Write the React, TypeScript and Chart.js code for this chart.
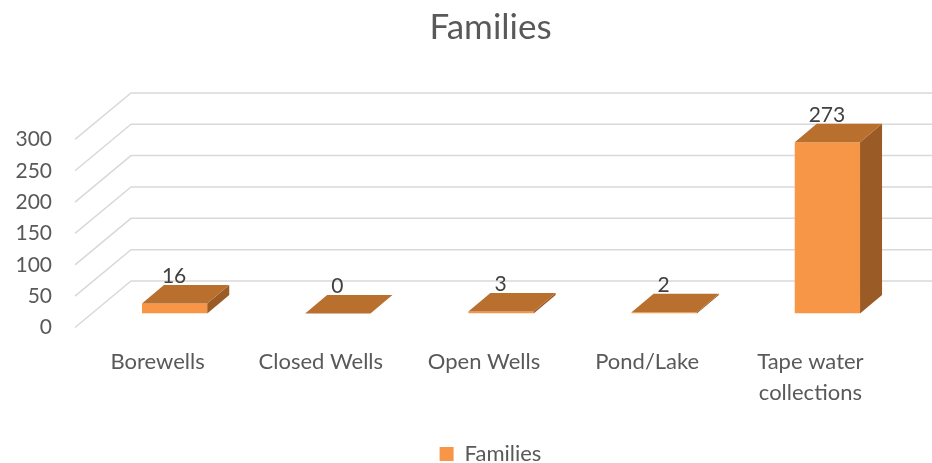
import React, { useEffect, useRef } from "react";
import { Chart, registerables } from "chart.js";

Chart.register(...registerables);

const categories: (string | string[])[] = ["Borewells", "Closed Wells", "Open Wells", "Pond/Lake", ["Tape water", "collections"]];
const families = [16, 0, 3, 2, 273];
const seriesName = "Families";
const yMax = 300;
const yStep = 50;

const FONT = "Lato, 'Open Sans', sans-serif";
const TEXT = "#595959";
const FRONT = "#F79646";
const TOP = "#B96F2E";
const SIDE = "#9A5B26";
const GRID = "#D9D9D9";
const DEPTH_X = 22;
const DEPTH_Y = 18.5;

const poly = (ctx: CanvasRenderingContext2D, pts: number[][], fill: string) => {
  ctx.beginPath();
  pts.forEach(([x, y], i) => (i ? ctx.lineTo(x, y) : ctx.moveTo(x, y)));
  ctx.closePath();
  ctx.fillStyle = fill;
  ctx.fill();
};

const wall3d = {
  id: "wall3d",
  beforeDatasetsDraw(chart: any) {
    const { ctx, scales, width } = chart;
    const y = scales.y;
    ctx.save();
    ctx.strokeStyle = GRID;
    ctx.lineWidth = 1.5;
    y.ticks.forEach((t: any) => {
      const p = y.getPixelForValue(t.value);
      ctx.beginPath();
      ctx.moveTo(chart.chartArea.left - 18, p + 14);
      ctx.lineTo(chart.chartArea.left + 38, p - 32.5);
      ctx.lineTo(width, p - 32.5);
      ctx.stroke();
    });
    ctx.restore();
  },
};

const bar3d = {
  id: "bar3d",
  afterDatasetsDraw(chart: any) {
    const { ctx } = chart;
    const meta = chart.getDatasetMeta(0);
    ctx.save();
    meta.data.forEach((bar: any, i: number) => {
      const l = bar.x - bar.width / 2;
      const r = bar.x + bar.width / 2;
      const t = bar.y;
      const b = bar.base;
      if (b - t > 0.1) {
        poly(ctx, [[r, t], [r + DEPTH_X, t - DEPTH_Y], [r + DEPTH_X, b - DEPTH_Y], [r, b]], SIDE);
      }
      poly(ctx, [[l, t], [r, t], [r + DEPTH_X, t - DEPTH_Y], [l + DEPTH_X, t - DEPTH_Y]], TOP);
      ctx.fillStyle = "#404040";
      ctx.font = `21px ${FONT}`;
      ctx.textAlign = "center";
      ctx.textBaseline = "middle";
      ctx.fillText(String(families[i]), bar.x - 0.5, t - 27.5);
    });
    ctx.restore();
  },
};

export default function App() {
  const ref = useRef<HTMLCanvasElement>(null);
  useEffect(() => {
    const chart = new Chart(ref.current!, {
      type: "bar",
      data: {
        labels: categories as any,
        datasets: [{
          label: seriesName,
          data: families,
          backgroundColor: FRONT,
          barPercentage: 0.8,
          categoryPercentage: 0.5,
        }],
      },
      options: {
        responsive: false,
        animation: false,
        layout: { padding: { left: 72, right: 23, top: 0, bottom: -12 } },
        plugins: {
          tooltip: { enabled: false },
          title: {
            display: true,
            text: seriesName,
            color: TEXT,
            font: { family: FONT, size: 35, weight: "normal" },
            padding: { top: 7, bottom: 76.4 },
          },
          legend: {
            position: "bottom",
            labels: {
              color: TEXT,
              font: { family: FONT, size: 22 },
              boxWidth: 14,
              boxHeight: 14,
              padding: 0,
            },
          },
        },
        scales: {
          x: {
            grid: { display: false, drawTicks: false },
            border: { display: false },
            afterFit: (s: any) => { s.height = 129.5; },
            ticks: {
              color: TEXT,
              font: { family: FONT, size: 22, lineHeight: 1.41 },
              padding: 33,
              labelOffset: -17,
              maxRotation: 0,
              autoSkip: false,
            },
          },
          y: {
            min: 0,
            max: yMax,
            grid: { display: false, drawTicks: false },
            border: { display: false },
            afterFit: (s: any) => {
              s.width = 21;
              s._computeLabelArea = () => undefined;
            },
            ticks: {
              stepSize: yStep,
              color: TEXT,
              font: { family: FONT, size: 21 },
              padding: 41,
              labelOffset: 14,
            },
          },
        },
      },
      plugins: [wall3d, bar3d],
    } as any);
    return () => chart.destroy();
  }, []);
  return (
    <div style={{ position: "absolute", left: 0, top: 0, width: 932, height: 463, background: "#fff" }}>
      <canvas ref={ref} width={932} height={463} style={{ display: "block", filter: "blur(0.4px)" }} />
    </div>
  );
}
